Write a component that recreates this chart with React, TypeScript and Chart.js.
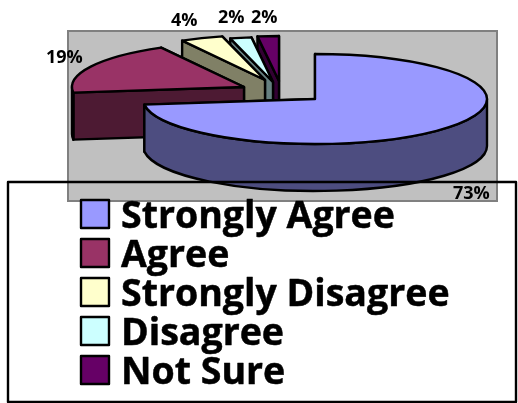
import { useEffect, useRef } from "react";
import { Chart, registerables } from "chart.js";

Chart.register(...registerables);

const categories = ["Strongly Agree", "Agree", "Strongly Disagree", "Disagree", "Not Sure"];
const shares = [73, 19, 4, 2, 2];
const faceColors = ["#9999FF", "#993366", "#FFFFCC", "#CCFFFF", "#660066"];
const wallColors = ["#4D4D80", "#4D1A33", "#808066", "#668080", "#330033"];

// Per-slice explosion of the tilted pie, in pixels.
const explodeX = [0, -71, -50, -42, -36];
const explodeY = [0, -12, -19, -17, -18];
// Where each percentage is written: left edge and baseline.
const labelX = [453, 46, 171, 218, 251];
const labelY = [199, 63, 26, 23, 23];

const PIE_CENTER_Y = 99;
const SQUASH = 45 / 172;
const DEPTH = 47;
const INK = "#000000";
const FONT_FAMILY = "'Open Sans', Lato, sans-serif";

const tiltedPie = {
  id: "tiltedPie",
  beforeDraw(chart: any) {
    const { ctx, width, height } = chart;
    ctx.save();
    ctx.fillStyle = "#FFFFFF";
    ctx.fillRect(0, 0, width, height);
    ctx.fillStyle = "#C0C0C0";
    ctx.strokeStyle = "#808080";
    ctx.lineWidth = 2;
    ctx.fillRect(68, 31, 429, 170);
    ctx.strokeRect(68, 31, 429, 170);
    ctx.restore();
  },
  beforeDatasetDraw() {
    return false;
  },
  afterDatasetsDraw(chart: any) {
    const { ctx } = chart;
    const arcs = chart.getDatasetMeta(0).data;
    ctx.save();
    ctx.lineWidth = 2.4;
    ctx.lineJoin = "round";
    ctx.strokeStyle = INK;

    const paint = (fill: string) => {
      ctx.fillStyle = fill;
      ctx.fill();
      ctx.stroke();
    };

    // Back to front: the smallest slices sit behind the larger ones.
    for (let i = arcs.length - 1; i >= 0; i--) {
      const arc = arcs[i];
      const rx = arc.outerRadius;
      const ry = rx * SQUASH;
      const cx = arc.x + explodeX[i];
      const cy = PIE_CENTER_Y + explodeY[i];
      const a0 = arc.startAngle;
      const a1 = arc.endAngle;
      const rim = (a: number) => ({ x: cx + rx * Math.cos(a), y: cy + ry * Math.sin(a) });

      const radialWall = (a: number) => {
        const p = rim(a);
        ctx.beginPath();
        ctx.moveTo(cx, cy);
        ctx.lineTo(p.x, p.y);
        ctx.lineTo(p.x, p.y + DEPTH);
        ctx.lineTo(cx, cy + DEPTH);
        ctx.closePath();
        paint(wallColors[i]);
      };
      const [backAngle, frontAngle] = rim(a0).y < rim(a1).y ? [a0, a1] : [a1, a0];
      radialWall(backAngle);
      radialWall(frontAngle);

      // Curved wall, only where the rim faces the viewer.
      const from = Math.max(a0, 0);
      const to = Math.min(a1, Math.PI);
      if (to > from) {
        ctx.beginPath();
        ctx.ellipse(cx, cy, rx, ry, 0, from, to);
        ctx.ellipse(cx, cy + DEPTH, rx, ry, 0, to, from, true);
        ctx.closePath();
        paint(wallColors[i]);
      }

      ctx.beginPath();
      ctx.moveTo(cx, cy);
      ctx.ellipse(cx, cy, rx, ry, 0, a0, a1);
      ctx.closePath();
      paint(faceColors[i]);
    }

    // Percentage labels.
    ctx.fillStyle = INK;
    ctx.textAlign = "left";
    ctx.textBaseline = "alphabetic";
    ctx.font = `bold 18px ${FONT_FAMILY}`;
    shares.forEach((v, i) => ctx.fillText(`${v}%`, labelX[i], labelY[i]));

    // Legend frame with its swatches and names.
    ctx.strokeRect(8, 182, 508, 220);
    ctx.font = `bold 37.5px ${FONT_FAMILY}`;
    categories.forEach((name, i) => {
      const top = 200 + i * 39;
      ctx.lineWidth = 2.4;
      ctx.beginPath();
      ctx.rect(81, top, 28, 28);
      ctx.fillStyle = faceColors[i];
      ctx.fill();
      ctx.stroke();
      ctx.fillStyle = INK;
      ctx.lineWidth = 0.5;
      ctx.fillText(name, 121, top + 28);
      ctx.strokeText(name, 121, top + 28);
    });
    ctx.restore();
  },
};

export default function App() {
  const canvasRef = useRef<HTMLCanvasElement | null>(null);

  useEffect(() => {
    const chart = new Chart(canvasRef.current as HTMLCanvasElement, {
      type: "pie",
      data: {
        labels: categories,
        datasets: [{ data: shares, backgroundColor: faceColors, borderWidth: 0 }],
      },
      plugins: [tiltedPie],
      options: {
        responsive: false,
        animation: false,
        events: [],
        layout: { padding: { left: 143, right: 31, top: 0, bottom: 0 } },
        plugins: { legend: { display: false }, tooltip: { enabled: false } },
      },
    } as any);
    return () => chart.destroy();
  }, []);

  return (
    <div style={{ position: "fixed", left: 0, top: 0 }}>
      <canvas ref={canvasRef} width={518} height={403} style={{ display: "block" }} />
    </div>
  );
}
